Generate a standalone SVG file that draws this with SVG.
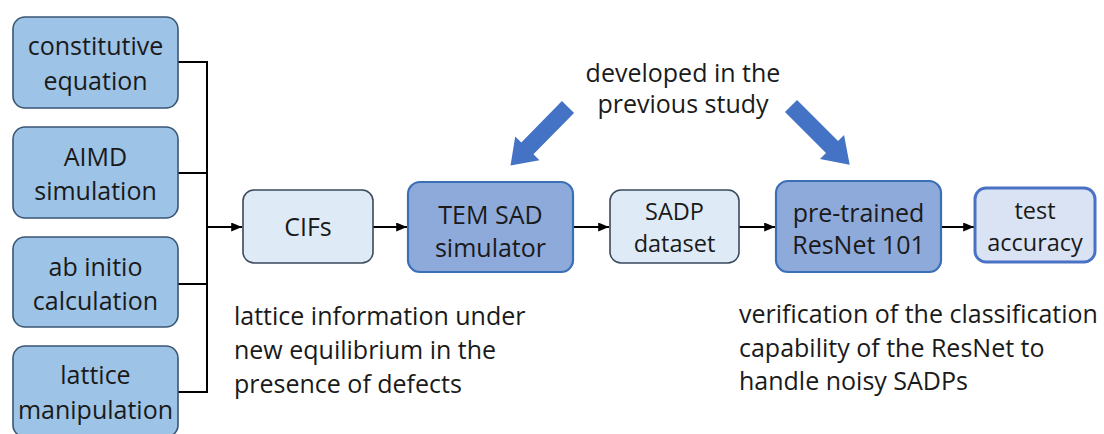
<svg xmlns="http://www.w3.org/2000/svg" width="1104" height="434" viewBox="0 0 1104 434">
<defs>
<style>
text{font-family:"Open Sans","Noto Sans","Liberation Sans",sans-serif;fill:#1a1a1a;}
.bt{font-size:25px;text-anchor:middle;}
.sm{font-size:23.5px;}
.an{font-size:25px;}
.top{font-size:25px;text-anchor:middle;}
.src{fill:#9dc3e6;stroke:#3a5675;stroke-width:1.6;}
.light{fill:#deebf7;stroke:#3a4a5c;stroke-width:1.6;}
.mid{fill:#8eaadb;stroke:#3a6eb5;stroke-width:2.2;}
.res{fill:#dae3f3;stroke:#4a72c4;stroke-width:3;}
.con{fill:none;stroke:#000;stroke-width:2;}
.blk{fill:#4472c4;}
</style>
<marker id="ah" viewBox="0 0 12 10" refX="12" refY="5" markerWidth="12" markerHeight="9" markerUnits="userSpaceOnUse" orient="auto">
<path d="M0,0 L12,5 L0,10 z" fill="#000"/>
</marker>
</defs>
<rect width="1104" height="434" fill="#fff"/>

<g id="connectors">
<polyline class="con" points="178,62 207,62 207,392 178,392"/>
<line class="con" x1="178" y1="173" x2="207" y2="173"/>
<line class="con" x1="178" y1="284" x2="207" y2="284"/>
<line class="con" x1="207" y1="227" x2="242" y2="227" marker-end="url(#ah)"/>
<line class="con" x1="373" y1="227" x2="407" y2="227" marker-end="url(#ah)"/>
<line class="con" x1="573" y1="227" x2="609" y2="227" marker-end="url(#ah)"/>
<line class="con" x1="739" y1="227" x2="775" y2="227" marker-end="url(#ah)"/>
<line class="con" x1="941" y1="227" x2="974" y2="227" marker-end="url(#ah)"/>
</g>

<g id="node-constitutive">
<rect class="src" x="13" y="17" width="165" height="91" rx="12"/>
<text class="bt" x="95.5" y="55">constitutive</text>
<text class="bt" x="95.5" y="90">equation</text>
</g>
<g id="node-aimd">
<rect class="src" x="13" y="127" width="165" height="91" rx="12"/>
<text class="bt" x="95.5" y="166">AIMD</text>
<text class="bt" x="95.5" y="200">simulation</text>
</g>
<g id="node-abinitio">
<rect class="src" x="13" y="237" width="165" height="90" rx="12"/>
<text class="bt" x="95.5" y="276">ab initio</text>
<text class="bt" x="95.5" y="310">calculation</text>
</g>
<g id="node-lattice">
<rect class="src" x="13" y="346" width="165" height="91" rx="12"/>
<text class="bt" x="95.5" y="384">lattice</text>
<text class="bt" x="95.5" y="419">manipulation</text>
</g>

<g id="node-cifs">
<rect class="light" x="243" y="190" width="130" height="73" rx="11"/>
<text class="bt" x="308" y="236">CIFs</text>
</g>
<g id="node-tem">
<rect class="mid" x="408" y="182" width="165" height="90" rx="12"/>
<text class="bt" x="490.5" y="224">TEM SAD</text>
<text class="bt" x="490.5" y="257">simulator</text>
</g>
<g id="node-sadp">
<rect class="light" x="610" y="190" width="129" height="73" rx="11"/>
<text class="bt sm" x="674.5" y="220">SADP</text>
<text class="bt sm" x="674.5" y="252">dataset</text>
</g>
<g id="node-resnet">
<rect class="mid" x="776" y="181" width="165" height="91" rx="12"/>
<text class="bt" x="858.5" y="222">pre-trained</text>
<text class="bt" x="858.5" y="254">ResNet 101</text>
</g>
<g id="node-test">
<rect class="res" x="975" y="188" width="120" height="74" rx="11"/>
<text class="bt sm" x="1035" y="219">test</text>
<text class="bt sm" x="1035" y="251">accuracy</text>
</g>

<g id="note-previous">
<text class="top" x="683" y="82">developed in the</text>
<text class="top" x="683" y="113">previous study</text>
<polygon class="blk" points="0,-8.5 58,-8.5 58,-17 82,0 58,17 58,8.5 0,8.5" transform="translate(568,107) rotate(134.5)"/>
<polygon class="blk" points="0,-8.5 58,-8.5 58,-17 83,0 58,17 58,8.5 0,8.5" transform="translate(791,106) rotate(45)"/>
</g>

<g id="note-lattice">
<text class="an" x="234" y="325">lattice information under</text>
<text class="an" x="234" y="359">new equilibrium in the</text>
<text class="an" x="234" y="393">presence of defects</text>
</g>
<g id="note-verification">
<text class="an" x="739" y="323">verification of the classification</text>
<text class="an" x="739" y="357">capability of the ResNet to</text>
<text class="an" x="739" y="390">handle noisy SADPs</text>
</g>
</svg>
